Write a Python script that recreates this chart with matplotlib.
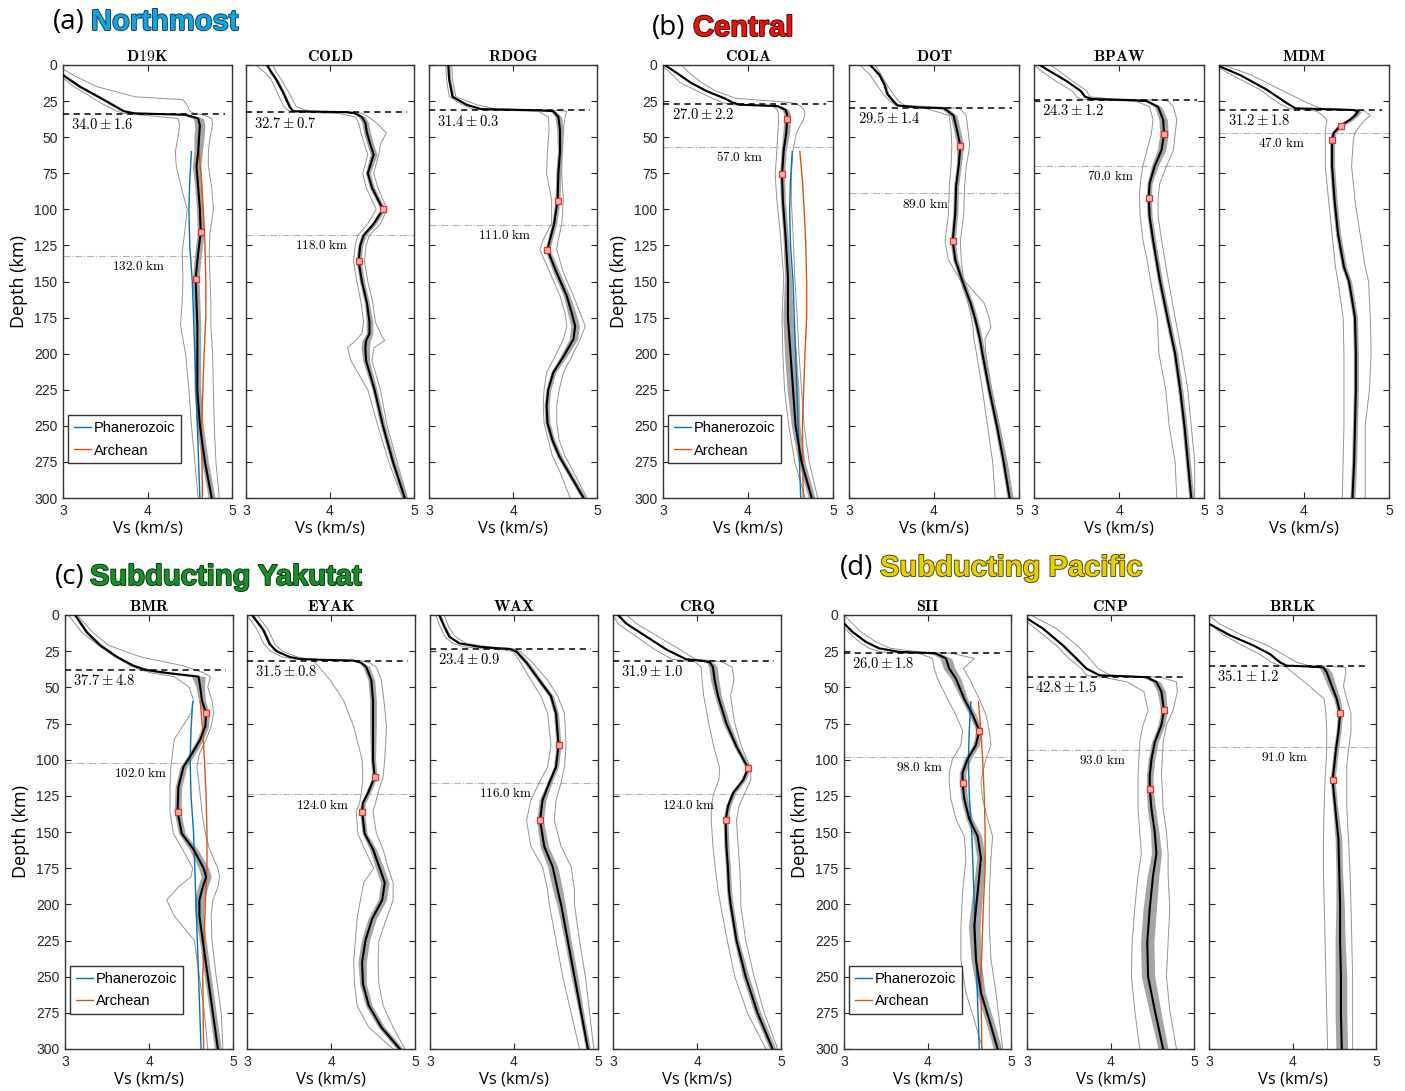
import numpy as np
import matplotlib.pyplot as plt
import matplotlib.patheffects as pe

plt.rcParams['mathtext.fontset'] = 'cm'
plt.rcParams['font.family'] = ['Liberation Sans', 'DejaVu Sans']

# ---- reference mantle models (shared by all groups) ----
phan_z = [60, 80, 100, 125, 150, 200, 250, 300]
phan_vs = [4.52, 4.50, 4.49, 4.50, 4.53, 4.56, 4.59, 4.62]
arch_z = [60, 80, 100, 125, 150, 175, 200, 250, 300]
arch_vs = [4.61, 4.64, 4.66, 4.68, 4.69, 4.69, 4.67, 4.64, 4.65]

# ---- station profiles: depth, mean Vs, slow bound, fast bound, band half-width ----
D19K_z = [0, 7, 15, 22, 24, 28, 32, 33.5, 34.5, 37, 42, 50, 60, 70, 85, 100, 116, 130, 148, 165, 180, 200, 225, 250, 275, 300]
D19K_vs = [2.85, 3.0, 3.2, 3.42, 3.48, 3.6, 3.72, 3.85, 4.45, 4.6, 4.62, 4.61, 4.6, 4.58, 4.6, 4.62, 4.63, 4.6, 4.57, 4.58, 4.59, 4.59, 4.59, 4.62, 4.68, 4.76]
D19K_lo = [2.78, 2.95, 3.13, 3.33, 3.38, 3.5, 3.64, 3.72, 3.9, 4.36, 4.38, 4.36, 4.33, 4.34, 4.4, 4.47, 4.44, 4.41, 4.42, 4.41, 4.39, 4.45, 4.49, 4.52, 4.56, 4.6]
D19K_hi = [2.92, 3.12, 3.4, 3.85, 4.42, 4.47, 4.5, 4.55, 4.66, 4.76, 4.77, 4.74, 4.72, 4.72, 4.76, 4.78, 4.74, 4.73, 4.74, 4.75, 4.75, 4.77, 4.78, 4.79, 4.81, 4.85]
D19K_sd = [0.03, 0.03, 0.03, 0.03, 0.03, 0.03, 0.03, 0.04, 0.05, 0.06, 0.06, 0.06, 0.05, 0.05, 0.04, 0.04, 0.04, 0.04, 0.04, 0.04, 0.04, 0.04, 0.04, 0.04, 0.04, 0.04]

COLD_z = [0, 5, 10, 20, 29, 32, 32.7, 33.5, 36, 40, 47, 55, 62, 75, 85, 100, 110, 118, 125, 136, 150, 165, 178, 186, 191, 196, 205, 225, 250, 275, 300]
COLD_vs = [3.25, 3.3, 3.36, 3.45, 3.52, 3.56, 4.2, 4.3, 4.38, 4.42, 4.44, 4.48, 4.52, 4.45, 4.5, 4.63, 4.52, 4.40, 4.36, 4.34, 4.38, 4.44, 4.47, 4.47, 4.43, 4.42, 4.43, 4.53, 4.63, 4.75, 4.89]
COLD_lo = [3.12, 3.22, 3.3, 3.38, 3.45, 3.52, 3.6, 4.1, 4.3, 4.34, 4.37, 4.41, 4.45, 4.39, 4.43, 4.55, 4.45, 4.33, 4.3, 4.28, 4.32, 4.37, 4.4, 4.38, 4.3, 4.21, 4.25, 4.45, 4.57, 4.7, 4.86]
COLD_hi = [3.32, 3.36, 3.42, 3.52, 3.6, 3.75, 4.3, 4.38, 4.46, 4.55, 4.67, 4.6, 4.58, 4.52, 4.57, 4.68, 4.6, 4.47, 4.43, 4.41, 4.45, 4.51, 4.54, 4.6, 4.65, 4.52, 4.5, 4.6, 4.68, 4.8, 4.92]
COLD_sd = [0.02, 0.02, 0.02, 0.02, 0.02, 0.02, 0.03, 0.03, 0.04, 0.04, 0.04, 0.04, 0.04, 0.03, 0.03, 0.03, 0.03, 0.03, 0.03, 0.03, 0.03, 0.03, 0.04, 0.04, 0.05, 0.05, 0.04, 0.03, 0.03, 0.03, 0.03]

RDOG_z = [0, 10, 22, 27.6, 30.5, 31.4, 32, 36, 45, 60, 75, 94, 110, 121, 128, 144, 160, 172, 181, 190, 202, 213, 225, 236, 248, 260, 271, 282, 300]
RDOG_vs = [3.23, 3.24, 3.28, 3.45, 3.62, 4.3, 4.48, 4.54, 4.56, 4.56, 4.54, 4.53, 4.49, 4.44, 4.41, 4.52, 4.64, 4.7, 4.74, 4.72, 4.6, 4.48, 4.42, 4.40, 4.41, 4.47, 4.55, 4.66, 4.84]
RDOG_lo = [3.2, 3.21, 3.24, 3.4, 3.52, 3.8, 4.3, 4.42, 4.43, 4.41, 4.40, 4.46, 4.46, 4.36, 4.32, 4.44, 4.56, 4.62, 4.64, 4.6, 4.5, 4.4, 4.37, 4.36, 4.37, 4.42, 4.47, 4.56, 4.68]
RDOG_hi = [3.27, 3.28, 3.32, 3.57, 3.8, 4.5, 4.64, 4.62, 4.6, 4.58, 4.58, 4.6, 4.58, 4.54, 4.52, 4.6, 4.72, 4.8, 4.86, 4.8, 4.7, 4.6, 4.55, 4.52, 4.52, 4.55, 4.62, 4.72, 4.88]
RDOG_sd = [0.02, 0.02, 0.02, 0.02, 0.02, 0.03, 0.03, 0.04, 0.04, 0.03, 0.03, 0.03, 0.03, 0.03, 0.03, 0.04, 0.04, 0.05, 0.05, 0.05, 0.04, 0.03, 0.03, 0.03, 0.03, 0.03, 0.03, 0.03, 0.03]

COLA_z = [0, 5, 12, 18, 23, 26, 27.5, 28.5, 31, 34, 38, 47, 59, 76, 94, 117, 147, 175, 200, 225, 250, 275, 300]
COLA_vs = [3.02, 3.15, 3.32, 3.51, 3.72, 3.82, 3.9, 4.35, 4.44, 4.46, 4.46, 4.45, 4.42, 4.40, 4.41, 4.44, 4.47, 4.47, 4.5, 4.53, 4.56, 4.63, 4.75]
COLA_lo = [2.98, 3.08, 3.2, 3.4, 3.58, 3.7, 3.8, 4.3, 4.34, 4.36, 4.36, 4.35, 4.34, 4.32, 4.34, 4.38, 4.42, 4.4, 4.41, 4.43, 4.48, 4.55, 4.67]
COLA_hi = [3.22, 3.3, 3.45, 3.62, 3.85, 4.5, 4.58, 4.62, 4.66, 4.67, 4.65, 4.57, 4.53, 4.51, 4.51, 4.53, 4.55, 4.58, 4.6, 4.63, 4.66, 4.72, 4.82]
COLA_sd = [0.02, 0.02, 0.02, 0.02, 0.03, 0.03, 0.04, 0.04, 0.04, 0.04, 0.04, 0.04, 0.03, 0.03, 0.03, 0.03, 0.04, 0.06, 0.07, 0.07, 0.05, 0.04, 0.04]

DOT_z = [0, 7, 14, 20, 25, 28, 29.3, 30, 35, 45, 56, 70, 84, 103, 122, 135, 149, 165, 175, 182, 190, 200, 225, 250, 275, 300]
DOT_vs = [3.25, 3.36, 3.42, 3.45, 3.52, 3.57, 3.8, 4.12, 4.23, 4.27, 4.31, 4.29, 4.26, 4.25, 4.22, 4.25, 4.33, 4.43, 4.48, 4.51, 4.54, 4.57, 4.65, 4.74, 4.82, 4.89]
DOT_lo = [3.13, 3.25, 3.33, 3.4, 3.48, 3.55, 3.65, 3.9, 4.18, 4.2, 4.21, 4.2, 4.18, 4.17, 4.13, 4.17, 4.31, 4.4, 4.44, 4.46, 4.47, 4.5, 4.57, 4.63, 4.69, 4.72]
DOT_hi = [3.31, 3.38, 3.45, 3.52, 3.58, 3.66, 4.1, 4.3, 4.38, 4.4, 4.42, 4.38, 4.36, 4.35, 4.31, 4.32, 4.35, 4.59, 4.65, 4.67, 4.6, 4.61, 4.68, 4.77, 4.86, 4.93]
DOT_sd = [0.02, 0.02, 0.02, 0.02, 0.02, 0.02, 0.03, 0.04, 0.04, 0.04, 0.04, 0.03, 0.03, 0.03, 0.03, 0.03, 0.03, 0.03, 0.03, 0.03, 0.03, 0.03, 0.03, 0.03, 0.03, 0.03]

BPAW_z = [0, 3, 11, 18, 22, 23.5, 24.3, 25, 29, 38, 48, 59, 70, 82, 92, 105, 121, 135, 149, 175, 200, 225, 250, 275, 300]
BPAW_vs = [3.07, 3.15, 3.38, 3.55, 3.6, 3.68, 4.1, 4.33, 4.46, 4.52, 4.53, 4.50, 4.42, 4.36, 4.35, 4.36, 4.40, 4.44, 4.48, 4.57, 4.66, 4.72, 4.77, 4.81, 4.85]
BPAW_lo = [3.01, 3.06, 3.25, 3.45, 3.5, 3.55, 3.7, 4.2, 4.36, 4.40, 4.38, 4.33, 4.28, 4.25, 4.24, 4.25, 4.28, 4.33, 4.37, 4.45, 4.47, 4.55, 4.59, 4.66, 4.68]
BPAW_hi = [3.19, 3.27, 3.45, 3.62, 3.66, 3.9, 4.5, 4.58, 4.64, 4.68, 4.66, 4.64, 4.56, 4.48, 4.46, 4.46, 4.5, 4.54, 4.58, 4.66, 4.74, 4.81, 4.85, 4.89, 4.89]
BPAW_sd = [0.02, 0.02, 0.02, 0.02, 0.02, 0.02, 0.03, 0.03, 0.04, 0.05, 0.05, 0.05, 0.04, 0.03, 0.03, 0.03, 0.03, 0.03, 0.03, 0.03, 0.03, 0.03, 0.03, 0.03, 0.03]

MDM_z = [0, 1, 7, 17, 26.5, 30, 30.7, 31.2, 32, 35, 38, 42, 47, 52, 70, 94, 117, 140, 150, 175, 200, 225, 250, 275, 300]
MDM_vs = [2.98, 3.01, 3.25, 3.56, 3.8, 3.9, 4.3, 4.58, 4.64, 4.6, 4.54, 4.43, 4.35, 4.33, 4.33, 4.36, 4.40, 4.47, 4.53, 4.6, 4.61, 4.61, 4.6, 4.59, 4.57]
MDM_lo = [2.95, 2.97, 3.15, 3.48, 3.7, 3.82, 3.9, 4.05, 4.15, 4.22, 4.27, 4.26, 4.25, 4.25, 4.25, 4.29, 4.33, 4.37, 4.4, 4.46, 4.47, 4.47, 4.47, 4.46, 4.45]
MDM_hi = [3.05, 3.1, 3.38, 3.72, 4.05, 4.2, 4.5, 4.66, 4.72, 4.78, 4.72, 4.66, 4.6, 4.58, 4.56, 4.6, 4.66, 4.72, 4.76, 4.78, 4.79, 4.77, 4.72, 4.72, 4.72]
MDM_sd = [0.02, 0.02, 0.02, 0.02, 0.02, 0.02, 0.03, 0.04, 0.04, 0.04, 0.04, 0.04, 0.03, 0.03, 0.03, 0.03, 0.03, 0.03, 0.03, 0.03, 0.03, 0.03, 0.03, 0.03, 0.03]

BMR_z = [0, 12, 21, 29, 35, 38, 40, 42.6, 50, 59, 68, 77, 86, 96, 105, 119, 136, 151, 162, 175, 181, 188, 197, 208, 225, 250, 275, 300]
BMR_vs = [3.12, 3.26, 3.42, 3.62, 3.81, 3.97, 4.21, 4.59, 4.61, 4.63, 4.68, 4.67, 4.61, 4.51, 4.41, 4.35, 4.34, 4.39, 4.53, 4.65, 4.68, 4.64, 4.6, 4.6, 4.64, 4.7, 4.76, 4.82]
BMR_lo = [3.04, 3.2, 3.4, 3.6, 3.82, 3.92, 4.02, 4.3, 4.48, 4.53, 4.5, 4.4, 4.3, 4.28, 4.26, 4.25, 4.25, 4.29, 4.4, 4.52, 4.5, 4.35, 4.21, 4.3, 4.54, 4.6, 4.66, 4.7]
BMR_hi = [3.14, 3.33, 3.52, 3.9, 4.4, 4.55, 4.65, 4.73, 4.7, 4.75, 4.77, 4.74, 4.68, 4.6, 4.57, 4.6, 4.63, 4.67, 4.72, 4.82, 4.84, 4.82, 4.76, 4.74, 4.75, 4.8, 4.86, 4.88]
BMR_sd = [0.02, 0.02, 0.03, 0.03, 0.04, 0.08, 0.1, 0.08, 0.05, 0.04, 0.04, 0.04, 0.04, 0.04, 0.04, 0.04, 0.04, 0.04, 0.05, 0.06, 0.06, 0.06, 0.06, 0.05, 0.04, 0.04, 0.04, 0.04]

EYAK_z = [0, 10, 20, 25, 29, 30.4, 31, 31.5, 33, 36, 45, 59, 77, 100, 112, 123, 130, 136, 151, 162, 175, 185, 197, 210, 225, 240, 255, 270, 285, 300]
EYAK_vs = [3.06, 3.19, 3.27, 3.35, 3.51, 3.63, 3.9, 4.27, 4.36, 4.42, 4.48, 4.5, 4.5, 4.5, 4.52, 4.44, 4.38, 4.37, 4.4, 4.5, 4.58, 4.64, 4.61, 4.49, 4.41, 4.37, 4.38, 4.45, 4.6, 4.82]
EYAK_lo = [3.0, 3.12, 3.2, 3.28, 3.42, 3.55, 3.75, 3.8, 3.81, 3.86, 3.99, 4.15, 4.27, 4.37, 4.38, 4.36, 4.34, 4.3, 4.32, 4.4, 4.51, 4.39, 4.35, 4.31, 4.29, 4.27, 4.28, 4.31, 4.45, 4.74]
EYAK_hi = [3.12, 3.25, 3.33, 3.42, 3.6, 3.72, 4.0, 4.35, 4.46, 4.54, 4.6, 4.63, 4.66, 4.64, 4.62, 4.56, 4.53, 4.5, 4.54, 4.62, 4.68, 4.74, 4.74, 4.66, 4.57, 4.56, 4.57, 4.62, 4.74, 4.88]
EYAK_sd = [0.02, 0.02, 0.02, 0.02, 0.02, 0.02, 0.03, 0.03, 0.03, 0.04, 0.04, 0.04, 0.04, 0.03, 0.03, 0.03, 0.03, 0.03, 0.03, 0.04, 0.05, 0.05, 0.05, 0.05, 0.05, 0.05, 0.04, 0.04, 0.04, 0.04]

WAX_z = [0, 8, 15, 19.6, 22, 23, 23.4, 25.3, 33, 45, 56, 68, 90, 105, 116, 128, 142, 160, 174, 190, 200, 225, 250, 275, 300]
WAX_vs = [3.11, 3.17, 3.23, 3.35, 3.59, 3.8, 3.95, 4.03, 4.15, 4.3, 4.44, 4.5, 4.53, 4.50, 4.42, 4.34, 4.31, 4.36, 4.46, 4.52, 4.56, 4.64, 4.72, 4.8, 4.88]
WAX_lo = [3.07, 3.12, 3.18, 3.27, 3.4, 3.6, 3.8, 3.99, 4.08, 4.2, 4.32, 4.4, 4.44, 4.4, 4.3, 4.2, 4.15, 4.2, 4.34, 4.4, 4.42, 4.5, 4.58, 4.68, 4.78]
WAX_hi = [3.17, 3.22, 3.3, 3.43, 3.7, 3.9, 4.0, 4.08, 4.22, 4.4, 4.52, 4.6, 4.62, 4.6, 4.56, 4.5, 4.48, 4.56, 4.68, 4.72, 4.72, 4.78, 4.85, 4.9, 4.95]
WAX_sd = [0.02, 0.02, 0.02, 0.02, 0.02, 0.02, 0.02, 0.03, 0.03, 0.03, 0.03, 0.03, 0.03, 0.03, 0.03, 0.04, 0.04, 0.05, 0.06, 0.06, 0.05, 0.04, 0.04, 0.03, 0.03]

CRQ_z = [0, 6, 15, 24, 30.6, 31.6, 32.5, 36, 45, 56, 75, 91, 106, 114, 123, 132, 142, 160, 176, 190, 200, 225, 250, 275, 300]
CRQ_vs = [3.06, 3.16, 3.4, 3.64, 3.87, 4.05, 4.15, 4.19, 4.21, 4.25, 4.35, 4.47, 4.61, 4.55, 4.43, 4.37, 4.34, 4.35, 4.37, 4.38, 4.4, 4.47, 4.58, 4.72, 4.9]
CRQ_lo = [3.0, 3.06, 3.28, 3.5, 3.7, 3.85, 3.98, 4.05, 4.06, 4.08, 4.14, 4.2, 4.27, 4.26, 4.2, 4.17, 4.17, 4.19, 4.22, 4.25, 4.28, 4.36, 4.45, 4.6, 4.82]
CRQ_hi = [3.16, 3.28, 3.54, 3.8, 3.98, 4.2, 4.3, 4.42, 4.44, 4.4, 4.45, 4.53, 4.64, 4.64, 4.57, 4.5, 4.47, 4.49, 4.51, 4.52, 4.52, 4.58, 4.68, 4.8, 4.96]
CRQ_sd = [0.02, 0.02, 0.02, 0.02, 0.02, 0.03, 0.04, 0.05, 0.05, 0.04, 0.04, 0.03, 0.03, 0.03, 0.03, 0.03, 0.03, 0.03, 0.03, 0.03, 0.03, 0.03, 0.04, 0.04, 0.04]

SII_z = [0, 5.8, 11.6, 18.5, 23, 25.5, 26, 26.6, 30, 37, 44, 58, 69, 80, 90, 99.5, 109, 116, 127, 141, 153, 168, 192, 215, 238, 261, 280, 300]
SII_vs = [2.9, 3.0, 3.1, 3.26, 3.42, 3.66, 3.9, 4.1, 4.22, 4.26, 4.34, 4.44, 4.54, 4.62, 4.58, 4.48, 4.42, 4.42, 4.44, 4.5, 4.6, 4.64, 4.6, 4.56, 4.58, 4.64, 4.74, 4.84]
SII_lo = [2.85, 2.95, 3.05, 3.18, 3.3, 3.45, 3.6, 3.9, 4.06, 4.08, 4.12, 4.24, 4.34, 4.42, 4.40, 4.3, 4.26, 4.26, 4.28, 4.34, 4.44, 4.46, 4.42, 4.40, 4.40, 4.46, 4.56, 4.66]
SII_hi = [3.0, 3.1, 3.2, 3.38, 3.55, 3.9, 4.1, 4.3, 4.56, 4.43, 4.5, 4.62, 4.7, 4.74, 4.76, 4.7, 4.66, 4.64, 4.66, 4.72, 4.78, 4.76, 4.74, 4.74, 4.76, 4.82, 4.86, 4.9]
SII_sd = [0.02, 0.02, 0.02, 0.02, 0.03, 0.03, 0.04, 0.05, 0.07, 0.07, 0.06, 0.04, 0.04, 0.04, 0.04, 0.04, 0.04, 0.04, 0.04, 0.04, 0.05, 0.05, 0.06, 0.07, 0.06, 0.05, 0.05, 0.05]

CNP_z = [0, 2.3, 9.3, 21, 30, 37, 41.7, 42.4, 43, 46.3, 53, 66, 76, 88, 100, 111, 120, 134, 150, 165, 180, 203, 226, 250, 273, 300]
CNP_vs = [2.95, 3.0, 3.19, 3.43, 3.59, 3.71, 3.87, 4.2, 4.43, 4.55, 4.61, 4.64, 4.61, 4.53, 4.49, 4.47, 4.47, 4.49, 4.53, 4.55, 4.51, 4.47, 4.44, 4.45, 4.53, 4.63]
CNP_lo = [2.9, 2.95, 3.1, 3.35, 3.5, 3.65, 3.71, 3.8, 3.91, 4.2, 4.4, 4.45, 4.39, 4.35, 4.34, 4.33, 4.33, 4.33, 4.35, 4.37, 4.33, 4.29, 4.26, 4.25, 4.29, 4.35]
CNP_hi = [3.05, 3.12, 3.35, 3.6, 3.75, 3.85, 4.0, 4.3, 4.6, 4.79, 4.8, 4.75, 4.67, 4.63, 4.62, 4.61, 4.62, 4.63, 4.67, 4.69, 4.69, 4.71, 4.69, 4.67, 4.71, 4.79]
CNP_sd = [0.02, 0.02, 0.02, 0.02, 0.02, 0.02, 0.03, 0.03, 0.04, 0.05, 0.05, 0.04, 0.04, 0.04, 0.04, 0.04, 0.04, 0.05, 0.05, 0.06, 0.07, 0.08, 0.08, 0.08, 0.07, 0.06]

BRLK_z = [0, 6, 14, 21, 27, 32.7, 35, 35.5, 36.2, 39.6, 49, 58, 68, 81, 93, 104, 114, 132, 155, 178, 200, 225, 250, 275, 300]
BRLK_vs = [2.9, 3.0, 3.25, 3.53, 3.73, 3.85, 3.93, 4.15, 4.37, 4.41, 4.47, 4.53, 4.57, 4.55, 4.52, 4.5, 4.48, 4.51, 4.55, 4.56, 4.57, 4.57, 4.58, 4.58, 4.59]
BRLK_lo = [2.95, 3.0, 3.18, 3.4, 3.6, 3.75, 3.85, 3.9, 3.93, 4.0, 4.2, 4.38, 4.4, 4.41, 4.41, 4.4, 4.39, 4.38, 4.37, 4.37, 4.38, 4.39, 4.4, 4.41, 4.42]
BRLK_hi = [3.0, 3.12, 3.4, 3.7, 3.88, 4.05, 4.2, 4.45, 4.63, 4.64, 4.61, 4.65, 4.7, 4.7, 4.67, 4.65, 4.65, 4.65, 4.67, 4.69, 4.7, 4.71, 4.72, 4.72, 4.72]
BRLK_sd = [0.02, 0.02, 0.02, 0.02, 0.02, 0.02, 0.03, 0.04, 0.05, 0.06, 0.05, 0.04, 0.03, 0.03, 0.03, 0.03, 0.03, 0.03, 0.04, 0.04, 0.05, 0.06, 0.07, 0.07, 0.07]

# ---- Moho / LAB picks and marked depths ----
stations = ['D19K', 'COLD', 'RDOG', 'COLA', 'DOT', 'BPAW', 'MDM',
            'BMR', 'EYAK', 'WAX', 'CRQ', 'SII', 'CNP', 'BRLK']
moho = [34.0, 32.7, 31.4, 27.0, 29.5, 24.3, 31.2, 37.7, 31.5, 23.4, 31.9, 26.0, 42.8, 35.1]
moho_err = [1.6, 0.7, 0.3, 2.2, 1.4, 1.2, 1.8, 4.8, 0.8, 0.9, 1.0, 1.8, 1.5, 1.2]
lab = [132.0, 118.0, 111.0, 57.0, 89.0, 70.0, 47.0, 102.0, 124.0, 116.0, 124.0, 98.0, 93.0, 91.0]
marks = [[116, 148], [100, 136], [94, 128], [37.6, 75.8], [56, 122], [47.8, 92], [42, 52],
         [68, 136], [112, 136], [90, 142], [106, 142], [80, 116], [66, 120], [68, 114]]

profiles = {
    'D19K': (D19K_z, D19K_vs, D19K_lo, D19K_hi, D19K_sd),
    'COLD': (COLD_z, COLD_vs, COLD_lo, COLD_hi, COLD_sd),
    'RDOG': (RDOG_z, RDOG_vs, RDOG_lo, RDOG_hi, RDOG_sd),
    'COLA': (COLA_z, COLA_vs, COLA_lo, COLA_hi, COLA_sd),
    'DOT': (DOT_z, DOT_vs, DOT_lo, DOT_hi, DOT_sd),
    'BPAW': (BPAW_z, BPAW_vs, BPAW_lo, BPAW_hi, BPAW_sd),
    'MDM': (MDM_z, MDM_vs, MDM_lo, MDM_hi, MDM_sd),
    'BMR': (BMR_z, BMR_vs, BMR_lo, BMR_hi, BMR_sd),
    'EYAK': (EYAK_z, EYAK_vs, EYAK_lo, EYAK_hi, EYAK_sd),
    'WAX': (WAX_z, WAX_vs, WAX_lo, WAX_hi, WAX_sd),
    'CRQ': (CRQ_z, CRQ_vs, CRQ_lo, CRQ_hi, CRQ_sd),
    'SII': (SII_z, SII_vs, SII_lo, SII_hi, SII_sd),
    'CNP': (CNP_z, CNP_vs, CNP_lo, CNP_hi, CNP_sd),
    'BRLK': (BRLK_z, BRLK_vs, BRLK_lo, BRLK_hi, BRLK_sd),
}

# ---- layout (pixels) ----
W, H = 1405, 1091
panel_x = {'D19K': (63, 232), 'COLD': (246, 414), 'RDOG': (429, 597),
           'COLA': (663, 833), 'DOT': (849, 1019), 'BPAW': (1034, 1204), 'MDM': (1219, 1389),
           'BMR': (65, 233), 'EYAK': (247, 415), 'WAX': (430, 598), 'CRQ': (613, 781),
           'SII': (844, 1011), 'CNP': (1027, 1194), 'BRLK': (1209, 1376)}
row_y = {1: (65, 498), 2: (615, 1049)}
first_panels = ['D19K', 'COLA', 'BMR', 'SII']

fig = plt.figure(figsize=(W / 100, H / 100), dpi=100)

for i, name in enumerate(stations):
    x0, x1 = panel_x[name]
    y0, y1 = row_y[1] if i < 7 else row_y[2]
    ax = fig.add_axes([x0 / W, 1 - y1 / H, (x1 - x0) / W, (y1 - y0) / H])
    z, vs, lo, hi, sd = [np.array(a, dtype=float) for a in profiles[name]]
    first = name in first_panels

    ax.fill_betweenx(z, vs - sd, vs + sd, color='#a5a5a5', lw=0, zorder=1)
    ax.plot(lo, z, color='#939393', lw=0.7, zorder=2)
    ax.plot(hi, z, color='#939393', lw=0.7, zorder=2)
    if first:
        ax.plot(phan_vs, phan_z, color='#0072BD', lw=1.0, label='Phanerozoic', zorder=3)
        ax.plot(arch_vs, arch_z, color='#D95319', lw=1.0, label='Archean', zorder=3)
    ax.plot(vs, z, color='k', lw=1.5, zorder=4)

    ax.axhline(moho[i], xmin=0, xmax=0.96, color='k', lw=1.1, ls=(0, (4, 3)), zorder=3)
    ax.axhline(lab[i], color='#b4b4b4', lw=0.8, ls='-.', zorder=0)

    md = np.array(marks[i])
    ax.plot(np.interp(md, z, vs), md, ls='none', marker='s', ms=5,
            mfc='#f6b3b3', mec='#e3302f', mew=0.9, zorder=5)

    ax.text(3.1, moho[i] + 7.5, rf'${moho[i]:.1f} \pm {moho_err[i]:.1f}$',
            fontsize=10.5, ha='left', va='center', zorder=6)
    tx = 3.74 if name == 'MDM' else 3.9
    ax.text(tx, lab[i] + 7, rf'${lab[i]:.1f}\ \mathrm{{km}}$',
            fontsize=9.5, ha='center', va='center', zorder=6)

    ax.set_xlim(3, 5)
    ax.set_ylim(300, 0)
    ax.set_xticks([3, 4, 5])
    ax.set_yticks(np.arange(0, 301, 25))
    ax.tick_params(direction='in', length=4, width=0.8, top=True, right=True,
                   labelsize=10, pad=4, colors='#262626', labelleft=first)
    for s in ax.spines.values():
        s.set_color('#333333')
        s.set_linewidth(1.0)
    ax.set_title(rf'$\mathbf{{{name}}}$', fontsize=11.5, pad=3)
    ax.set_xlabel('Vs (km/s)', fontsize=12, family='Open Sans', labelpad=2)
    if first:
        ax.set_ylabel('Depth (km)', fontsize=13, family='Open Sans', labelpad=4)
        ax.legend(loc='lower left', bbox_to_anchor=(0.03, 0.08), borderaxespad=0,
                  fontsize=10.5, handlelength=1.2, handletextpad=0.15, labelspacing=0.6,
                  borderpad=0.4, fancybox=False, framealpha=1, edgecolor='#333333')

# ---- group headings ----
headings = [('(a)', 53, 'Northmost', 91, 22, '#12a3e0', '#0b3a58'),
            ('(b)', 652, 'Central', 693, 28, '#e3160e', '#4a0000'),
            ('(c)', 55, 'Subducting Yakutat', 90, 577, '#17902a', '#06300c'),
            ('(d)', 840, 'Subducting Pacific', 880, 568, '#e8cf00', '#4d4400')]
for tag, tx, word, wx, ty, col, dark in headings:
    fig.text(tx / W, 1 - ty / H, tag, fontsize=20, family='Open Sans', va='center', ha='left')
    fig.text(wx / W, 1 - ty / H, word, fontsize=21, fontweight='bold', color=col,
             va='center', ha='left',
             path_effects=[pe.Stroke(linewidth=1.3, foreground=dark), pe.Normal()])

fig.savefig('out.png', dpi=100)
